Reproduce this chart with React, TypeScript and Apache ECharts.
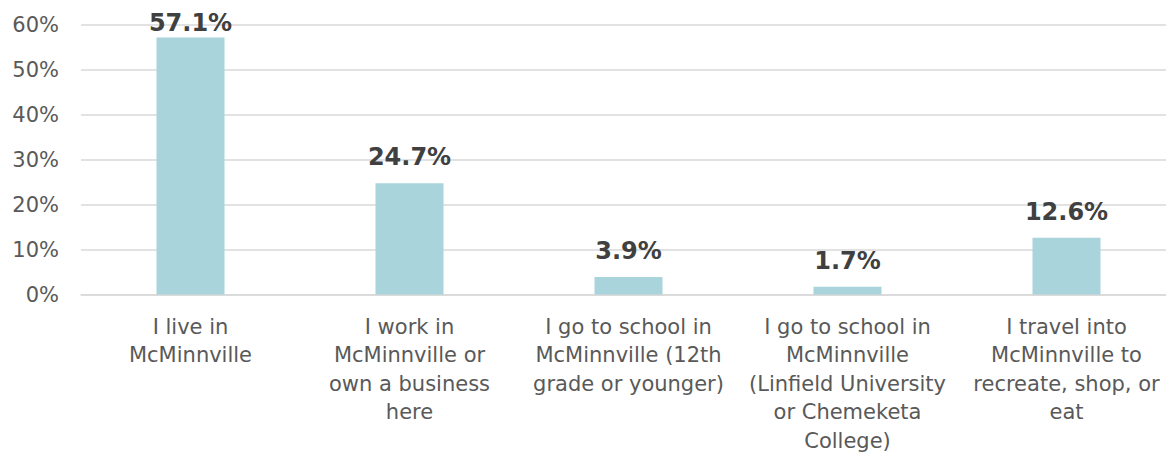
import React, { useEffect, useRef } from "react";
import * as echarts from "echarts";

const categories: string[] = [
  "I live in\nMcMinnville",
  "I work in\nMcMinnville or\nown a business\nhere",
  "I go to school in\nMcMinnville (12th\ngrade or younger)",
  "I go to school in\nMcMinnville\n(Linfield University\nor Chemeketa\nCollege)",
  "I travel into\nMcMinnville to\nrecreate, shop, or\neat",
];
const values: number[] = [57.1, 24.7, 3.9, 1.7, 12.6];
const yTicks: number[] = [0, 10, 20, 30, 40, 50, 60];

const FONT = "'DejaVu Sans', sans-serif";

export default function App() {
  const ref = useRef<HTMLDivElement>(null);
  useEffect(() => {
    if (!ref.current) return;
    const chart = echarts.init(ref.current, null, { renderer: "svg" });
    chart.setOption({
      animation: false,
      backgroundColor: "#ffffff",
      grid: {
        left: 81,
        width: 1095,
        top: 24.5,
        height: 270,
        containLabel: false,
        outerBoundsMode: "none",
      },
      xAxis: {
        type: "category",
        data: categories,
        axisLine: { show: true, lineStyle: { color: "#d9d9d9", width: 1.5 } },
        axisTick: { show: false },
        axisLabel: {
          interval: 0,
          margin: 18,
          color: "#595959",
          fontFamily: FONT,
          fontSize: 21,
          lineHeight: 28.5,
          align: "center",
        },
      },
      yAxis: {
        type: "value",
        min: yTicks[0],
        max: yTicks[yTicks.length - 1],
        interval: 10,
        axisLine: { show: false },
        axisTick: { show: false },
        splitLine: { lineStyle: { color: "#d9d9d9", width: 1.5 } },
        axisLabel: {
          margin: 22,
          color: "#595959",
          fontFamily: FONT,
          fontSize: 21,
          formatter: (v: number) => `${v}%`,
        },
      },
      series: [
        {
          type: "bar",
          barWidth: 68,
          itemStyle: { color: "#a9d4db" },
          data: values.map((v, i) => ({
            value: v,
            label: i === 0 ? { distance: 3 } : undefined,
          })),
          label: {
            show: true,
            position: "top",
            distance: 14,
            color: "#404040",
            fontFamily: FONT,
            fontWeight: "bold",
            fontSize: 24,
            formatter: (p: any) => `${Number(p.value).toFixed(1)}%`,
          },
        },
      ],
    });
    return () => chart.dispose();
  }, []);
  return (
    <div
      ref={ref}
      style={{ position: "fixed", left: 0, top: 0, width: 1166, height: 459 }}
    />
  );
}
